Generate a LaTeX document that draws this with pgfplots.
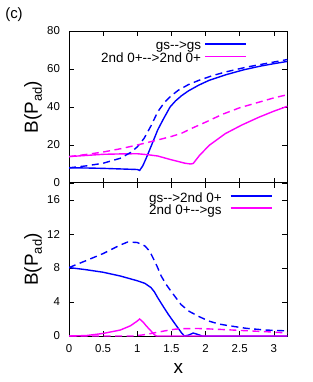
\documentclass[border=0pt]{standalone}
\usepackage{fontspec}
\setmainfont{Liberation Sans}
\usepackage{pgfplots}
\pgfplotsset{compat=1.18}
\newcommand{\tickfont}{\fontsize{11.5}{13}\selectfont}
\newcommand{\legfont}{\fontsize{13.5}{15}\selectfont}
\newcommand{\labfont}{\fontsize{19}{22}\selectfont}
\newcommand{\Blab}{\labfont B(P\raisebox{-4bp}{\fontsize{13}{13}\selectfont ad})}
\definecolor{gpblue}{RGB}{0,0,255}
\definecolor{gpmag}{RGB}{255,0,255}
\pgfplotsset{
  myaxis/.style={
    scale only axis, width=218.5bp,
    xmin=0, xmax=3.2, xtick={0,0.5,...,3},
    tick align=inside, major tick length=5bp,
    every tick/.style={black, line width=0.6bp},
    axis line style={black, line width=1bp},
    tick label style={font=\tickfont},
    /pgf/number format/assume math mode=true,
    yticklabel style={xshift=-5.5bp},
    xticklabel style={yshift=-5bp},
    every axis y label/.style={at={(rel axis cs:0,0.5)}, xshift=-36bp, rotate=90, anchor=center},
    every axis x label/.style={at={(rel axis cs:0.5,0)}, yshift=-32.7bp, anchor=center},
    legend cell align=right, legend plot pos=right,
    legend image code/.code={\draw[##1] (0bp,3bp) -- (41bp,3bp);},
  },
  sol/.style={line width=1.4bp, solid},
  das/.style={line width=1.4bp, dash pattern=on 7bp off 4.5bp},
}
\begin{document}
\begin{tikzpicture}[x=1bp,y=1bp]
\path[use as bounding box] (0,0) rectangle (313,382);
\node[font=\fontsize{15}{17}\selectfont] at (14,367.5) {(c)};
\begin{axis}[myaxis,
  at={(69bp,199bp)}, anchor=south west, height=152bp,
  ymin=0, ymax=80, ytick={0,20,...,80}, xticklabels={},
  ylabel={\Blab},
  legend style={draw=none, fill=none, at={(0.815,0.938)}, anchor=north east,
    font=\legfont, inner sep=0pt, column sep=3.4bp, row sep=0.4bp,
    nodes={inner sep=0pt, text height=9bp, text depth=3.5bp}},
]
\addplot[gpblue, sol] coordinates {
(0,8.0)(0.25,7.9)(0.5,7.7)(0.75,7.4)(1.0,7.1)(1.035,6.6)(1.08,9)(1.13,13)(1.21,20)(1.3,28)(1.38,33.5)(1.48,40)(1.56,43.2)(1.65,46)(1.75,48.5)(1.9,51.5)(2.05,54)(2.3,57)(2.55,59.5)(2.8,61.5)(3.0,62.8)(3.2,64)};
\addlegendentry{gs-{}->gs}
\addplot[gpmag, sol] coordinates {
(0,13.9)(0.25,14.5)(0.5,15.1)(0.75,15.3)(1.0,15.4)(1.15,14.9)(1.3,14.2)(1.47,12.5)(1.6,11.3)(1.7,10.4)(1.78,10.0)(1.82,10.3)(1.915,14.7)(2.06,20)(2.29,26)(2.53,30.5)(2.78,34.6)(3.0,37.8)(3.2,40.4)};
\addlegendentry{2nd 0+-{}->2nd 0+}
\addplot[gpblue, das, forget plot] coordinates {
(0,8)(0.25,9)(0.5,10.4)(0.75,13)(0.9,16)(1.0,19)(1.1,23.5)(1.2,30)(1.3,37.5)(1.4,42.5)(1.5,46)(1.6,48.8)(1.75,51.8)(1.9,54)(2.1,56.5)(2.3,58.5)(2.6,61)(2.9,63)(3.2,65)};
\addplot[gpmag, das, forget plot] coordinates {
(0,13.9)(0.25,15)(0.5,16.3)(0.75,18)(1.0,20)(1.25,22.2)(1.5,24.5)(1.65,26.2)(1.8,28.8)(2.0,32)(2.25,36.2)(2.5,39.6)(2.75,42.2)(3.0,44.8)(3.2,46.5)};
\end{axis}
\begin{axis}[myaxis,
  at={(69bp,46bp)}, anchor=south west, height=153bp,
  ymin=0, ymax=18, ytick={0,4,...,16},
  ylabel={\Blab}, xlabel={\labfont x},
  legend style={draw=none, fill=none, at={(0.932,0.935)}, anchor=north east,
    font=\legfont, inner sep=0pt, column sep=8.4bp, row sep=0pt,
    nodes={inner sep=0pt, text height=9bp, text depth=3bp}},
]
\addplot[gpblue, sol] coordinates {
(0,8.05)(0.25,7.8)(0.5,7.5)(0.75,7.06)(1.0,6.5)(1.11,6.2)(1.2,5.7)(1.25,5.2)(1.3,4.5)(1.37,3.6)(1.45,2.6)(1.52,1.8)(1.6,0.9)(1.65,0.35)(1.69,0)(1.75,0.1)(1.82,0.35)(1.88,0.2)(1.95,0)(3.2,0)};
\addlegendentry{gs-{}->2nd 0+}
\addplot[gpmag, sol] coordinates {
(0,0)(0.25,0.05)(0.5,0.3)(0.75,0.7)(0.9,1.2)(1.0,1.76)(1.035,2.0)(1.09,1.6)(1.13,1.2)(1.2,0.6)(1.25,0.15)(1.28,0)(3.2,0)};
\addlegendentry{2nd 0+-{}->gs}
\addplot[gpblue, das, forget plot] coordinates {
(0,8.05)(0.23,8.8)(0.5,9.7)(0.75,10.7)(0.86,11.06)(1.0,11.0)(1.11,10.6)(1.18,10.0)(1.23,9.2)(1.29,8.2)(1.35,7.06)(1.42,6.1)(1.5,5.2)(1.64,3.7)(1.76,2.9)(1.9,2.3)(2.05,1.75)(2.2,1.4)(2.39,1.15)(2.6,0.9)(2.88,0.7)(3.2,0.6)};
\addplot[gpmag, das, forget plot] coordinates {
(0,0)(0.95,0)(1.1,0.15)(1.27,0.4)(1.4,0.6)(1.55,0.8)(1.7,0.87)(1.9,0.88)(2.15,0.8)(2.4,0.7)(2.65,0.6)(2.9,0.5)(3.2,0.35)};
\end{axis}
\end{tikzpicture}
\end{document}
